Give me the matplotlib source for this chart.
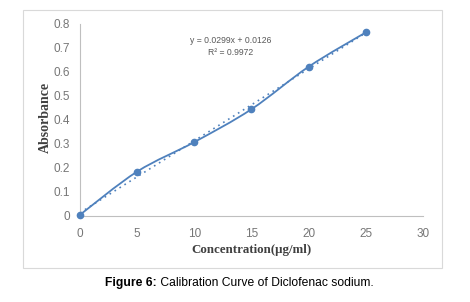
import numpy as np
import matplotlib
matplotlib.use('Agg')
import matplotlib.pyplot as plt
from matplotlib.path import Path
from matplotlib.patches import PathPatch, Rectangle

conc = [0, 5, 10, 15, 20, 25]
absorb = [0.005, 0.185, 0.308, 0.445, 0.622, 0.765]
x_ticks = [0, 5, 10, 15, 20, 25, 30]
y_ticks = [0, 0.1, 0.2, 0.3, 0.4, 0.5, 0.6, 0.7, 0.8]
y_tick_labels = ['0', '0.1', '0.2', '0.3', '0.4', '0.5', '0.6', '0.7', '0.8']

blue = '#4F81BD'
gray = '#767676'

fig = plt.figure(figsize=(4.7, 3.02), dpi=100)
ax = fig.add_axes([0.1702, 0.2848, 0.7298, 0.6358])

# frame of the chart area
fig.patches.append(Rectangle((23 / 470, 1 - 268 / 302), 419 / 470, 258 / 302,
                             transform=fig.transFigure, fill=False,
                             edgecolor='#d9d9d9', lw=0.8))

# smooth line through the points (Catmull-Rom style bezier, like Excel)
pts = np.column_stack([conc, absorb]).astype(float)
verts = [pts[0]]
codes = [Path.MOVETO]
n = len(pts)
for i in range(n - 1):
    p0 = pts[max(i - 1, 0)]
    p1 = pts[i]
    p2 = pts[i + 1]
    p3 = pts[min(i + 2, n - 1)]
    c1 = p1 + (p2 - p0) / 6
    c2 = p2 - (p3 - p1) / 6
    verts += [c1, c2, p2]
    codes += [Path.CURVE4] * 3
ax.add_patch(PathPatch(Path(verts, codes), fill=False, edgecolor=blue, lw=1.3))
ax.plot(conc, absorb, 'o', color=blue, ms=4.5, clip_on=False, zorder=5)

# linear trendline
m, b = np.polyfit(conc, absorb, 1)
xl = np.array([conc[0], conc[-1]])
ax.plot(xl, m * xl + b, ls=(0, (1, 2.5)), color=blue, lw=1.2)

ax.text(13.2, 0.73, 'y = 0.0299x + 0.0126', ha='center', va='center',
        fontsize=6.2, color='#595959', family='Liberation Sans')
ax.text(13.2, 0.683, 'R² = 0.9972', ha='center', va='center',
        fontsize=6.2, color='#595959', family='Liberation Sans')

ax.set_xlim(0, 30)
ax.set_ylim(0, 0.8)
ax.set_xticks(x_ticks)
ax.set_yticks(y_ticks)
ax.set_yticklabels(y_tick_labels)
ax.tick_params(length=0, labelsize=8.5, labelcolor=gray)
ax.tick_params(axis='x', pad=8.5)
ax.tick_params(axis='y', pad=7)
for lab in ax.get_xticklabels() + ax.get_yticklabels():
    lab.set_family('Liberation Sans')
for s in ['top', 'right']:
    ax.spines[s].set_visible(False)
for s in ['left', 'bottom']:
    ax.spines[s].set_color('#bfbfbf')
    ax.spines[s].set_linewidth(0.8)

fig.text(251 / 470, 1 - 250 / 302, 'Concentration(μg/ml)', ha='center',
         va='center', fontsize=9.3, fontweight='bold', color='#404040',
         family=['Liberation Serif', 'DejaVu Serif'])
fig.text(45 / 470, 1 - 117.5 / 302, 'Absorbance', ha='center', va='center',
         rotation=90, fontsize=10, fontweight='bold', color='#404040',
         family='Liberation Serif')

# caption: bold label followed by regular text
t1 = fig.text(105 / 470, 1 - 283 / 302, 'Figure 6:', ha='left', va='center',
              fontsize=8.7, fontweight='bold', family='Liberation Sans')
ax.annotate(' Calibration Curve of Diclofenac sodium.', xy=(1, 0.5),
            xycoords=t1, ha='left', va='center', fontsize=8.7,
            family='Liberation Sans', annotation_clip=False)

fig.savefig('out.png', dpi=100)
